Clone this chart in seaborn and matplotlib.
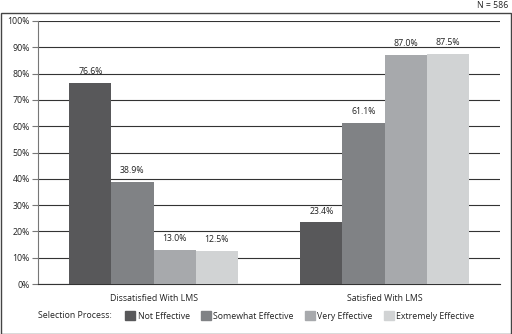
import matplotlib
matplotlib.use("Agg")
import matplotlib.pyplot as plt
import seaborn as sns
import pandas as pd
from matplotlib.patches import Rectangle

groups = ["Dissatisfied With LMS", "Satisfied With LMS"]
levels = ["Not Effective", "Somewhat Effective", "Very Effective", "Extremely Effective"]
dissatisfied = [76.6, 38.9, 13.0, 12.5]
satisfied = [23.4, 61.1, 87.0, 87.5]
colors = ["#58585a", "#808285", "#a7a9ac", "#d1d3d4"]
yticks = [0, 10, 20, 30, 40, 50, 60, 70, 80, 90, 100]

rows = []
for lv, d, s in zip(levels, dissatisfied, satisfied):
    rows.append({"group": groups[0], "level": lv, "value": d})
    rows.append({"group": groups[1], "level": lv, "value": s})
df = pd.DataFrame(rows)

sns.set_style("white")
plt.rcParams["font.family"] = ["Open Sans", "DejaVu Sans"]
FS = 6.3

fig = plt.figure(figsize=(5.12, 3.34), dpi=100)
ax = fig.add_axes([38/512, 1-284/334, 462/512, 263/334])

sns.barplot(data=df, x="group", y="value", hue="level", order=groups,
            hue_order=levels, palette=colors, width=0.73, ax=ax,
            saturation=1, legend=False, zorder=3, edgecolor="none")

ax.set_ylim(0, 100)
ax.set_xlim(-0.5, 1.5)
ax.set_yticks(yticks)
ax.set_yticklabels([f"{t}%" for t in yticks], fontsize=FS, color="#222222")
ax.yaxis.grid(True, color="#333333", linewidth=0.8, zorder=0)
ax.set_axisbelow(True)
for s in ["top", "right"]:
    ax.spines[s].set_visible(False)
ax.spines["left"].set_color("#777777")
ax.spines["left"].set_linewidth(0.8)
ax.spines["bottom"].set_color("#333333")
ax.spines["bottom"].set_linewidth(0.8)
ax.tick_params(axis="y", length=4, width=0.8, color="#777777", pad=2, left=True)
ax.tick_params(axis="x", length=0, pad=7, labelsize=FS, labelcolor="#222222")
ax.set_xlabel("")
ax.set_ylabel("")

for cont in ax.containers:
    ax.bar_label(cont, labels=[f"{v:.1f}%" for v in cont.datavalues],
                 padding=5, fontsize=FS, color="#222222")

# outer frame
fig.patches.append(Rectangle((0.5/512, 0.5/334), 510.5/512, 320.5/334,
                             transform=fig.transFigure, fill=False,
                             edgecolor="#444444", linewidth=1.0))
fig.text(508/512, 1-6/334, "N = 586", ha="right", va="center", fontsize=FS, color="#222222")

fig.text(112/512, 1-316/334, "Selection Process:", ha="right", va="center",
         fontsize=FS, color="#222222")
handles = [Rectangle((0, 0), 1, 1, color=c) for c in colors]
fig.legend(handles, levels, loc="center", bbox_to_anchor=(300/512, 1-316/334),
           ncol=4, frameon=False, fontsize=FS, handlelength=1.1, handleheight=1.1,
           handletextpad=0.3, columnspacing=1.3, labelcolor="#222222")

fig.savefig("out.png", dpi=100)
